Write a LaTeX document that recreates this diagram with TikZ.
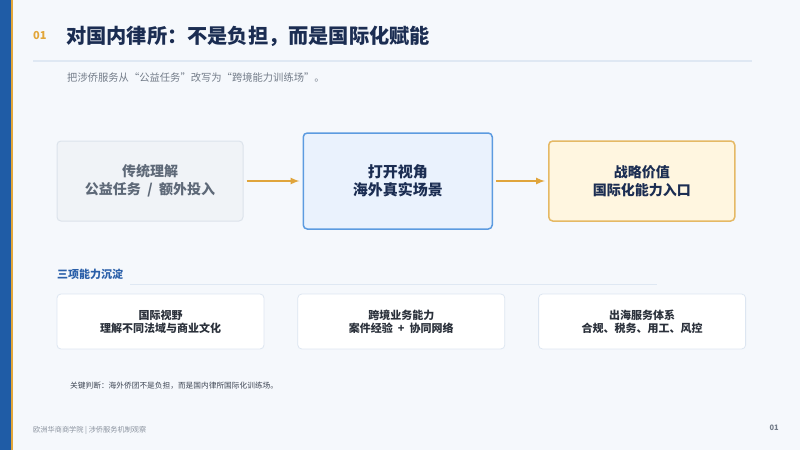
\documentclass[tikz,border=0pt]{standalone}
\usepackage{fontspec}
\setmainfont{Noto Sans CJK SC}
\usetikzlibrary{positioning,arrows}
\usetikzlibrary{calc}

\definecolor{pageBg}{HTML}{F5F8FC}
\definecolor{barBlue}{HTML}{1F5CA6}
\definecolor{barGold}{HTML}{E2A63A}
\definecolor{titleNavy}{HTML}{1B2D52}
\definecolor{subGray}{HTML}{737C89}
\definecolor{ruleBlue}{HTML}{DFE8F3}
\definecolor{oldFill}{HTML}{F0F3F7}
\definecolor{oldBorder}{HTML}{DCE3EB}
\definecolor{oldText}{HTML}{5E6978}
\definecolor{openFill}{HTML}{EAF2FD}
\definecolor{openBorder}{HTML}{5C9BE0}
\definecolor{valueFill}{HTML}{FFF6E0}
\definecolor{valueBorder}{HTML}{E5B965}
\definecolor{flowGold}{HTML}{E0A53C}
\definecolor{sectionBlue}{HTML}{2A5FA9}
\definecolor{cardBorder}{HTML}{DDE6F1}
\definecolor{cardText}{HTML}{2B313B}
\definecolor{noteText}{HTML}{3E4654}
\definecolor{footGray}{HTML}{8A929E}

\begin{document}
\begin{tikzpicture}[x=1pt,y=-1pt]
  \newdimen\gap
  \gap=59pt

  \tikzstyle{oldView} = [
    % The shape:
    rectangle, minimum height=80pt, minimum width=186pt, rounded corners=4pt,
    % The border:
    line width=1pt,
    draw=oldBorder,
    % The filling:
    fill=oldFill,
    % Font:
    font=\fontsize{14}{18}\selectfont\bfseries, text=oldText, align=center
  ];
  \tikzstyle{openView} = [
    % The shape:
    rectangle, minimum height=96pt, minimum width=189pt, rounded corners=4pt,
    % The border:
    line width=1.5pt,
    draw=openBorder,
    % The filling:
    fill=openFill,
    % Font:
    font=\fontsize{15}{18.5}\selectfont\bfseries, text=titleNavy, align=center
  ];
  \tikzstyle{valueView} = [
    % The shape:
    rectangle, minimum height=80pt, minimum width=186pt, rounded corners=4pt,
    % The border:
    line width=1.5pt,
    draw=valueBorder,
    % The filling:
    fill=valueFill,
    % Font:
    font=\fontsize{14}{18}\selectfont\bfseries, text=titleNavy, align=center
  ];
  \tikzstyle{card} = [
    % The shape:
    rectangle, minimum height=55pt, minimum width=207pt, rounded corners=4pt,
    % The border:
    line width=0.8pt,
    draw=cardBorder,
    % The filling:
    fill=white,
    % Font:
    font=\fontsize{11}{13}\selectfont\bfseries, text=cardText, align=center
  ];
  \tikzstyle{annotation} = [
    % Just text!
    inner sep=0pt, anchor=west
  ];
  \tikzstyle{flow} = [
    draw = flowGold,
    line width=2pt,
    -latex,
    shorten >=3pt, shorten <=3pt
  ];
  \tikzstyle{rule} = [
    draw = ruleBlue,
    line width=1.2pt
  ];

  % page
  \fill [pageBg] (0,0) rectangle (800,450);
  \useasboundingbox (0,0) rectangle (800,450);
  \fill [barBlue] (0,0) rectangle (11,450);
  \fill [barGold] (11,0) rectangle (13,450);

  % heading
  \node [annotation, text=barGold, font=\fontsize{11}{13}\selectfont\bfseries] (num) at (33,36) {01};
  \node [annotation, text=titleNavy, font=\fontsize{20.2}{24}\selectfont\bfseries] (title) at (66,36)
        {对国内律所：不是负担，而是国际化赋能};
  \coordinate (ruleLeft) at (33,61);
  \coordinate (ruleRight) at (752,61);
  \path [rule] (ruleLeft) to (ruleRight);
  \node [annotation, text=subGray, font=\fontsize{10.3}{12}\selectfont] (subtitle) at (67,78)
        {把涉侨服务从“公益任务”改写为“跨境能力训练场”。};

  % main flow
  \node [oldView] (old) at (150,181) {传统理解\\公益任务 ~/~ 额外投入};
  \node [openView, right = \gap of old] (open) {打开视角\\海外真实场景};
  \node [valueView, right = 55pt of open] (value) {战略价值\\国际化能力入口};

  \path [flow] (old) to (open);
  \path [flow] (open) to (value);

  % three capabilities
  \node [annotation, text=sectionBlue, font=\fontsize{11}{13}\selectfont\bfseries] (section) at (57,274)
        {三项能力沉淀};
  \coordinate (sectionEnd) at (657,284);
  \path [rule, line width=1pt] ($(section.east |- sectionEnd)+(7,0)$) to (sectionEnd);

  \node [card] (vision) at (160.5,321.5) {国际视野\\理解不同法域与商业文化};
  \node [card, right = 33pt of vision] (business) {跨境业务能力\\案件经验 ~+~ 协同网络};
  \node [card, right = 33pt of business] (service) {出海服务体系\\合规、税务、用工、风控};

  % notes
  \node [annotation, text=noteText, font=\fontsize{7.7}{10}\selectfont] (judgement) at (70,386)
        {关键判断：海外侨团不是负担，而是国内律所国际化训练场。};
  \node [annotation, text=footGray, font=\fontsize{7.2}{9}\selectfont] (footer) at (33,430)
        {欧洲华商商学院 | 涉侨服务机制观察};
  \node [annotation, anchor=east, text=subGray, font=\fontsize{7.5}{9}\selectfont\bfseries] (page) at (779,428)
        {01};
\end{tikzpicture}
\end{document}
